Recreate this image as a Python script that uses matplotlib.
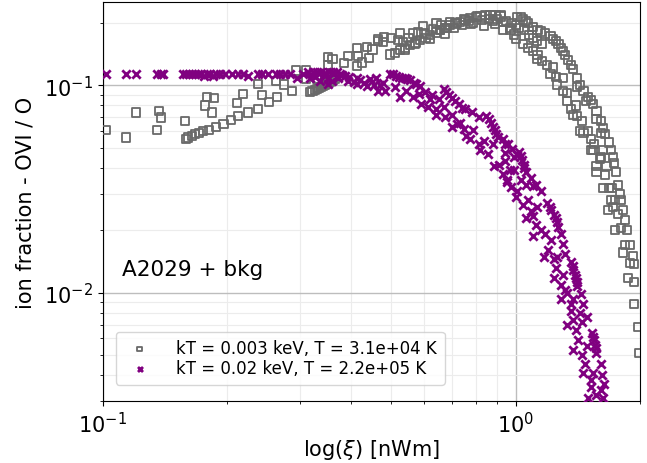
import matplotlib.pyplot as plt

# OVI ion fraction, kT = 0.003 keV
xi_cold = [0.102, 0.114, 0.120, 0.135, 0.137, 0.138, 0.158, 0.179, 0.186, 0.177,
           0.184, 0.211, 0.219, 0.237, 0.243, 0.263, 0.275, 0.287, 0.294, 0.310,
           0.310, 0.330,
           0.159, 0.161, 0.164, 0.167, 0.171, 0.175, 0.181, 0.188, 0.196, 0.204,
           0.213, 0.225, 0.237, 0.253, 0.264,
           0.318, 0.322, 0.326, 0.330, 0.334, 0.338, 0.342, 0.346, 0.350, 0.355,
           0.360, 0.365,
           0.351, 0.360, 0.351, 0.384, 0.393, 0.413, 0.413, 0.416, 0.425, 0.437,
           0.441, 0.450, 0.465, 0.463, 0.477, 0.525, 0.533, 0.564, 0.597, 0.643,
           0.657, 0.695, 0.750, 0.808, 0.869, 0.919, 1.01, 1.04,
           0.497, 0.510, 0.525, 0.540, 0.556, 0.572, 0.588, 0.605, 0.621, 0.640,
           0.657, 0.676, 0.695, 0.715, 0.735, 0.756, 0.777, 0.800, 0.822, 0.845,
           0.869, 0.894, 0.919,
           0.93, 0.97, 0.93, 0.89, 0.84, 0.78, 0.71, 0.675, 0.62, 0.57, 0.54,
           0.48, 0.50, 0.52, 0.55, 0.58, 0.60, 0.63, 0.66, 0.68, 0.72,
           0.74, 0.77, 0.79, 0.83, 0.86, 0.88, 0.90, 0.95, 0.98, 1.00,
           1.02, 1.05, 1.08, 1.10,
           1.028, 1.06, 1.10, 1.149, 1.215, 1.25, 1.285, 1.32, 1.359, 1.41,
           1.46, 1.50, 1.54, 1.607, 1.65, 1.70, 1.73, 1.77, 1.80, 1.84,
           1.89, 1.94,
           1.07, 1.13, 1.18, 1.23, 1.27, 1.30, 1.34, 1.38, 1.43, 1.52,
           1.57, 1.63, 1.68, 1.72, 1.75, 1.79, 1.82, 1.86, 1.92,
           0.972, 0.99, 1.04, 1.10, 1.125, 1.125, 1.16, 1.16, 1.215, 1.23,
           1.26, 1.30, 1.30, 1.33, 1.36, 1.38, 1.41, 1.41, 1.43, 1.46,
           1.48, 1.52, 1.52, 1.54, 1.57, 1.57, 1.57, 1.607, 1.607, 1.63,
           1.63, 1.66, 1.70, 1.71, 1.67, 1.74, 1.74, 1.77, 1.80, 1.82,
           1.84, 1.87, 1.89, 1.94, 1.94, 1.98, 1.99,
           1.00, 1.07, 1.13, 1.19, 1.25, 1.33, 1.40, 1.45, 1.50, 1.55,
           1.60, 1.65, 1.68, 1.72]
frac_cold = [0.061, 0.056, 0.074, 0.061, 0.075, 0.070, 0.067, 0.088, 0.087, 0.080,
             0.074, 0.082, 0.091, 0.102, 0.090, 0.105, 0.101, 0.094, 0.118, 0.118,
             0.108, 0.108,
             0.055, 0.056, 0.057, 0.058, 0.059, 0.060, 0.061, 0.063, 0.065, 0.068,
             0.071, 0.074, 0.077, 0.083, 0.088,
             0.093, 0.094, 0.095, 0.096, 0.097, 0.098, 0.099, 0.100, 0.102, 0.104,
             0.106, 0.108,
             0.137, 0.134, 0.126, 0.128, 0.138, 0.151, 0.124, 0.138, 0.129, 0.153,
             0.135, 0.149, 0.167, 0.163, 0.162, 0.178, 0.162, 0.178, 0.193, 0.200,
             0.186, 0.202, 0.208, 0.215, 0.218, 0.215, 0.213, 0.208,
             0.141, 0.144, 0.148, 0.152, 0.156, 0.160, 0.165, 0.170, 0.175, 0.180,
             0.185, 0.190, 0.195, 0.199, 0.203, 0.207, 0.211, 0.214, 0.216, 0.218,
             0.219, 0.219, 0.218,
             0.202, 0.190, 0.186, 0.197, 0.193, 0.197, 0.190, 0.177, 0.167, 0.159, 0.149,
             0.172, 0.170, 0.165, 0.170, 0.180, 0.178, 0.188, 0.195, 0.190, 0.200,
             0.196, 0.205, 0.200, 0.207, 0.210, 0.205, 0.210, 0.205, 0.200, 0.196,
             0.190, 0.185, 0.175, 0.170,
             0.214, 0.205, 0.191, 0.182, 0.173, 0.163, 0.152, 0.140, 0.126, 0.109,
             0.094, 0.088, 0.081, 0.067, 0.058, 0.049, 0.042, 0.033, 0.028, 0.0225,
             0.017, 0.0137,
             0.200, 0.185, 0.178, 0.168, 0.158, 0.146, 0.133, 0.120, 0.100, 0.085,
             0.075, 0.062, 0.053, 0.045, 0.038, 0.030, 0.025, 0.020, 0.015,
             0.186, 0.176, 0.159, 0.146, 0.163, 0.134, 0.131, 0.159, 0.113, 0.122,
             0.101, 0.109, 0.094, 0.084, 0.077, 0.072, 0.098, 0.071, 0.060, 0.059,
             0.084, 0.055, 0.049, 0.049, 0.069, 0.041, 0.038, 0.059, 0.045, 0.049,
             0.032, 0.041, 0.028, 0.032, 0.025, 0.028, 0.020, 0.024, 0.0205, 0.0156,
             0.017, 0.0118, 0.0139, 0.0112, 0.0088, 0.0068, 0.0051,
             0.168, 0.152, 0.140, 0.125, 0.110, 0.092, 0.080, 0.067, 0.060, 0.052,
             0.044, 0.037, 0.032, 0.026]

# OVI ion fraction, kT = 0.02 keV
xi_warm = [0.102, 0.114, 0.120, 0.135, 0.138, 0.140, 0.156, 0.159, 0.162, 0.164,
           0.167, 0.170, 0.173, 0.176, 0.179, 0.182, 0.185, 0.188, 0.192, 0.198,
           0.206, 0.213, 0.219, 0.225, 0.237, 0.243, 0.251, 0.262, 0.269, 0.276,
           0.284, 0.296, 0.306, 0.314, 0.323, 0.330, 0.338, 0.345, 0.353, 0.361,
           0.370, 0.376, 0.386,
           0.318, 0.327, 0.335, 0.343, 0.360, 0.372, 0.380, 0.395, 0.405, 0.420,
           0.430, 0.455, 0.470, 0.460,
           0.351, 0.351, 0.393, 0.413, 0.413, 0.437, 0.444, 0.465, 0.477, 0.483,
           0.497, 0.505, 0.513, 0.521, 0.530, 0.538, 0.547, 0.556, 0.566, 0.575, 0.588,
           0.525, 0.564, 0.59, 0.621, 0.643, 0.67, 0.70, 0.70, 0.735, 0.76,
           0.79, 0.82, 0.836, 0.88, 0.885, 0.94, 0.955, 0.99, 1.01, 0.94,
           0.945, 0.99, 0.97, 0.955, 1.03, 1.06, 1.00, 1.10, 1.07, 1.125,
           1.06, 1.10, 1.149, 1.10, 1.215, 1.17, 1.26, 1.24, 1.24, 1.30,
           1.285, 1.33, 1.38, 1.43, 1.36, 1.33, 1.40, 1.45, 1.38, 1.49,
           1.46, 1.54, 1.52, 1.607, 1.50, 1.63,
           0.604, 0.628, 0.652, 0.756, 0.786, 0.814, 0.93, 0.96, 0.982, 1.087,
           1.118, 1.149, 1.285, 1.30, 1.32, 1.437, 1.46, 1.49, 1.607, 1.62, 1.635,
           0.511, 0.541, 0.584, 0.612, 0.64, 0.675, 0.72, 0.75, 0.777, 0.814,
           0.855, 0.91, 0.93, 0.972, 1.01, 1.04, 1.087, 1.118, 1.18, 1.20,
           1.25, 1.285, 1.32, 1.36, 1.38, 1.42, 1.45, 1.47, 1.52, 1.57,
           0.67, 0.68, 0.69, 0.70, 0.715, 0.73, 0.74,
           0.85, 0.86, 0.87, 0.88, 0.89, 0.895, 0.905,
           1.02, 1.03, 1.035, 1.045, 1.05, 1.06,
           1.19, 1.21, 1.22, 1.24, 1.25, 1.26, 1.27,
           1.36, 1.375, 1.38, 1.39, 1.40, 1.41, 1.41,
           1.53, 1.54, 1.55, 1.56, 1.57, 1.57]
frac_warm = [0.113, 0.113, 0.113, 0.113, 0.113, 0.113, 0.113, 0.113, 0.113, 0.113,
             0.113, 0.113, 0.113, 0.111, 0.113, 0.113, 0.111, 0.113, 0.113, 0.113,
             0.113, 0.113, 0.113, 0.111, 0.113, 0.113, 0.113, 0.113, 0.113, 0.113,
             0.113, 0.109, 0.113, 0.116, 0.116, 0.116, 0.116, 0.115, 0.116, 0.116,
             0.116, 0.113, 0.111,
             0.108, 0.110, 0.105, 0.112, 0.105, 0.108, 0.112, 0.110, 0.104, 0.106,
             0.103, 0.100, 0.100, 0.108,
             0.107, 0.101, 0.105, 0.101, 0.109, 0.099, 0.107, 0.094, 0.103, 0.094,
             0.113, 0.113, 0.111, 0.110, 0.109, 0.108, 0.107, 0.106, 0.103, 0.101, 0.099,
             0.088, 0.088, 0.081, 0.086, 0.072, 0.079, 0.072, 0.063, 0.066, 0.057,
             0.061, 0.049, 0.054, 0.052, 0.041, 0.047, 0.035, 0.039, 0.046, 0.052,
             0.043, 0.045, 0.039, 0.034, 0.035, 0.033, 0.029, 0.0325, 0.028, 0.026,
             0.023, 0.0233, 0.020, 0.0187, 0.018, 0.0148, 0.0149, 0.0145, 0.0118, 0.0122,
             0.0093, 0.0100, 0.0093, 0.0080, 0.0081, 0.0070, 0.0066, 0.0072, 0.0053, 0.0055,
             0.0041, 0.0041, 0.0035, 0.0034, 0.0031, 0.0031,
             0.0925, 0.0895, 0.0856, 0.0766, 0.0741, 0.070, 0.0548, 0.0519, 0.0491, 0.0359,
             0.0332, 0.0308, 0.0191, 0.0171, 0.0153, 0.0098, 0.0088, 0.0076, 0.0045, 0.0040, 0.0036,
             0.0978, 0.0935, 0.0905, 0.0783, 0.0766, 0.070, 0.0648, 0.0613, 0.0548, 0.0519,
             0.0464, 0.0415, 0.0372, 0.0322, 0.0308, 0.0266, 0.0247, 0.0213, 0.0191, 0.0161,
             0.0132, 0.0109, 0.0103, 0.0088, 0.0074, 0.0059, 0.0050, 0.0045, 0.0038, 0.0032,
             0.0956, 0.0925, 0.0895, 0.0865, 0.084, 0.081, 0.078,
             0.0708, 0.0685, 0.066, 0.063, 0.061, 0.0585, 0.0566,
             0.0475, 0.0455, 0.0434, 0.0415, 0.0397, 0.038,
             0.0272, 0.026, 0.0249, 0.0238, 0.0228, 0.0218, 0.0208,
             0.0140, 0.0134, 0.0128, 0.0122, 0.0117, 0.0112, 0.0107,
             0.0064, 0.0061, 0.0059, 0.0056, 0.0054, 0.0051]

labels = ['kT = 0.003 keV, T = 3.1e+04 K', 'kT = 0.02 keV, T = 2.2e+05 K']

fig = plt.figure(figsize=(6.47, 4.64), dpi=100)
ax = fig.add_axes([0.159, 0.134, 0.83, 0.859])

ax.scatter(xi_cold, frac_cold, marker='s', s=34, facecolors='none',
           edgecolors='dimgray', linewidths=1.3, label=labels[0], zorder=3)
ax.scatter(xi_warm, frac_warm, marker='x', s=36, color='purple',
           linewidths=2.0, label=labels[1], zorder=3)

ax.set_xscale('log')
ax.set_yscale('log')
ax.set_xlim(0.1, 2.0)
ax.set_ylim(0.003, 0.252)
ax.grid(which='major', color='#bdbdbd', lw=1.0)
ax.grid(which='minor', color='#ececec', lw=0.8)
ax.set_axisbelow(True)
ax.tick_params(axis='both', which='major', labelsize=15)

ax.set_xlabel(r'log($\xi$) [nWm]', fontsize=15, labelpad=1)
ax.set_ylabel('ion fraction - OVI / O', fontsize=15, labelpad=6)
ax.text(0.035, 0.33, 'A2029 + bkg', transform=ax.transAxes, fontsize=15.5,
        va='center')
ax.legend(loc='lower left', bbox_to_anchor=(0.008, 0.02), fontsize=12,
          markerscale=0.6, handletextpad=1.2, borderpad=0.45, labelspacing=0.1)

plt.savefig('out.png', dpi=100)
